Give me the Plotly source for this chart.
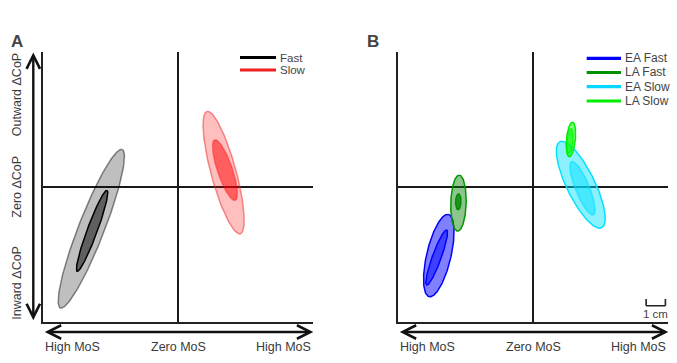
import numpy as np
import plotly.graph_objects as go

W, H = 677, 363
HALF_RANGE = 7  # cm, each side of zero

# ---------------- data (cm) ----------------
# Panel A
a_names = ["Fast", "Slow"]
a_outer_cx = [-4.51, 2.35]
a_outer_cy = [-2.18, 0.73]
a_outer_major = [4.41, 3.29]
a_outer_minor = [0.67, 0.65]
a_outer_angle = [68.7, 105.2]
a_inner_cx = [-4.47, 2.42]
a_inner_cy = [-2.29, 0.86]
a_inner_major = [2.24, 1.66]
a_inner_minor = [0.26, 0.39]
a_inner_angle = [69.7, 108.7]

# Panel B
b_names = ["EA Fast", "LA Fast", "EA Slow", "LA Slow"]
b_outer_cx = [-4.90, -3.88, 2.46, 1.95]
b_outer_cy = [-3.57, -0.85, 0.10, 2.45]
b_outer_major = [2.19, 1.45, 2.48, 0.90]
b_outer_minor = [0.63, 0.40, 0.73, 0.23]
b_outer_angle = [76.8, 88.4, 115.9, 84.4]
b_inner_cx = [-5.01, -3.89, 2.55, 1.90]
b_inner_cy = [-3.67, -0.78, -0.08, 2.37]
b_inner_major = [1.52, 0.41, 1.49, 0.65]
b_inner_minor = [0.23, 0.14, 0.36, 0.16]
b_inner_angle = [70.0, 88.0, 112.1, 84.0]

x_tick_labels = ["High MoS", "Zero MoS", "High MoS"]
y_tick_labels = ["Outward ΔCoP", "Zero ΔCoP", "Inward ΔCoP"]
scale_bar_cm = 1.0

# ---------------- styles ----------------
a_styles = [
    dict(ofill="rgba(0,0,0,0.25)", oline="rgba(0,0,0,0.45)", ifill="rgba(0,0,0,0.5)", iline="rgba(0,0,0,1)", leg="#000000"),
    dict(ofill="rgba(255,0,0,0.25)", oline="rgba(235,40,40,0.5)", ifill="rgba(255,0,0,0.5)", iline="rgba(255,0,0,0.35)", leg="#ee2020"),
]
b_styles = [
    dict(ofill="rgba(0,0,255,0.5)", oline="rgb(0,0,255)", ifill="rgba(0,0,255,0.5)", iline="rgb(0,0,255)", leg="#0000ff"),
    dict(ofill="rgba(0,128,0,0.45)", oline="rgb(0,150,0)", ifill="rgba(0,128,0,0.75)", iline="rgb(0,140,0)", leg="#009000"),
    dict(ofill="rgba(0,225,255,0.45)", oline="rgb(0,225,255)", ifill="rgba(0,225,255,0.5)", iline="rgba(0,225,255,0.6)", leg="#00d8ff"),
    dict(ofill="rgba(0,255,0,0.5)", oline="rgb(0,235,0)", ifill="rgba(0,255,0,0.6)", iline="rgba(0,235,0,0.6)", leg="#00ee00"),
]

FONT = "Liberation Sans, Arial, sans-serif"
TXT = "#3a3a3a"


def ellipse(cx, cy, a, b, ang, n=240):
    t = np.linspace(0, 2 * np.pi, n)
    th = np.deg2rad(ang)
    x = cx + a * np.cos(t) * np.cos(th) - b * np.sin(t) * np.sin(th)
    y = cy + a * np.cos(t) * np.sin(th) + b * np.sin(t) * np.cos(th)
    return x, y


fig = go.Figure()


def add_panel(xa, ya, ocx, ocy, oma, omi, oan, icx, icy, ima, imi, ian, styles):
    for i in range(len(ocx)):
        st = styles[i]
        x, y = ellipse(ocx[i], ocy[i], oma[i], omi[i], oan[i])
        fig.add_trace(go.Scatter(x=x, y=y, mode="lines", fill="toself", fillcolor=st["ofill"],
                                 line=dict(color=st["oline"], width=1.5), hoverinfo="skip",
                                 showlegend=False, xaxis=xa, yaxis=ya))
        x, y = ellipse(icx[i], icy[i], ima[i], imi[i], ian[i])
        fig.add_trace(go.Scatter(x=x, y=y, mode="lines", fill="toself", fillcolor=st["ifill"],
                                 line=dict(color=st["iline"], width=1.5), hoverinfo="skip",
                                 showlegend=False, xaxis=xa, yaxis=ya))


add_panel("x", "y", a_outer_cx, a_outer_cy, a_outer_major, a_outer_minor, a_outer_angle,
          a_inner_cx, a_inner_cy, a_inner_major, a_inner_minor, a_inner_angle, a_styles)
add_panel("x2", "y2", b_outer_cx, b_outer_cy, b_outer_major, b_outer_minor, b_outer_angle,
          b_inner_cx, b_inner_cy, b_inner_major, b_inner_minor, b_inner_angle, b_styles)

# plot-area pixel geometry
A_X0, A_X1 = 43.3, 313.3
B_X0, B_X1 = 398.3, 668.3
Y_TOP, Y_BOT = 51.7, 321.7

ax_common = dict(range=[-HALF_RANGE, HALF_RANGE], showgrid=False, showticklabels=False, ticks="",
                 zeroline=True, zerolinecolor="#1a1a1a", zerolinewidth=1.5,
                 showline=True, linecolor="#222222", linewidth=1.6, mirror=False, fixedrange=True)

fig.update_layout(
    width=W, height=H,
    margin=dict(l=0, r=0, t=0, b=0),
    paper_bgcolor="white", plot_bgcolor="white",
    showlegend=False,
    xaxis=dict(domain=[A_X0 / W, A_X1 / W], anchor="y", **ax_common),
    yaxis=dict(domain=[1 - Y_BOT / H, 1 - Y_TOP / H], anchor="x", **ax_common),
    xaxis2=dict(domain=[B_X0 / W, B_X1 / W], anchor="y2", **ax_common),
    yaxis2=dict(domain=[1 - Y_BOT / H, 1 - Y_TOP / H], anchor="x2", **ax_common),
)

ann = []
shapes = []

# panel letters
ann.append(dict(text="<b>A</b>", x=17 / W, y=1 - 41 / H, xref="paper", yref="paper",
                xanchor="center", yanchor="middle",
                showarrow=False, font=dict(family=FONT, size=17, color="#444444")))
ann.append(dict(text="<b>B</b>", x=372.5 / W, y=1 - 41 / H, xref="paper", yref="paper",
                xanchor="center", yanchor="middle",
                showarrow=False, font=dict(family=FONT, size=17, color="#444444")))

# double arrows
ARROW_Y = 332
ARROW_KW = dict(arrowside="end+start", arrowhead=5, startarrowhead=5, arrowsize=1.1, startarrowsize=1.1,
                arrowwidth=2.4, arrowcolor="#111111", standoff=0, startstandoff=0)
for x0, x1 in [(A_X0, A_X1), (B_X0, B_X1)]:
    ann.append(dict(text="", x=x1 / W, y=1 - ARROW_Y / H, xref="paper", yref="paper",
                    ax=-(x1 - x0), ay=0, axref="pixel", ayref="pixel", showarrow=True, **ARROW_KW))
ARROW_X = 33.3
ann.append(dict(text="", x=ARROW_X / W, y=1 - 52.5 / H, xref="paper", yref="paper",
                ax=0, ay=(Y_BOT - 52.5), axref="pixel", ayref="pixel", showarrow=True, **ARROW_KW))

# x labels
for xa in ["x", "x2"]:
    for val, lab, anc in zip([-HALF_RANGE, 0, HALF_RANGE], x_tick_labels, ["left", "center", "right"]):
        ann.append(dict(text=lab, x=val, y=1 - 347 / H, xref=xa, yref="paper", xanchor=anc,
                        yanchor="middle", showarrow=False, font=dict(family=FONT, size=12.5, color=TXT)))

# y labels (panel A only)
for val, lab, anc in zip([HALF_RANGE, 0, -HALF_RANGE], y_tick_labels, ["top", "middle", "bottom"]):
    ann.append(dict(text=lab, x=17 / W, y=val, xref="paper", yref="y", xanchor="center",
                    yanchor=anc, textangle=-90, showarrow=False,
                    font=dict(family=FONT, size=12.5, color=TXT)))

# legends (drawn manually)
def add_legend(names, styles, lx0, lx1, ys, fsize):
    for nm, st, yy in zip(names, styles, ys):
        shapes.append(dict(type="line", xref="paper", yref="paper", x0=lx0 / W, x1=lx1 / W,
                           y0=1 - yy / H, y1=1 - yy / H, line=dict(color=st["leg"], width=3.2)))
        ann.append(dict(text=nm, x=(lx1 + 3) / W, y=1 - yy / H, xref="paper", yref="paper",
                        xanchor="left", yanchor="middle", showarrow=False, borderpad=0,
                        font=dict(family=FONT, size=fsize, color="#444444")))


add_legend(a_names, a_styles, 240, 276, [57.5, 70.0], 11.5)
add_legend(b_names, b_styles, 586.7, 621, [58.3, 72.5, 86.7, 101], 12)

# scale bar (panel B)
sb_x1 = 6.85
sb_x0 = sb_x1 - scale_bar_cm
sb_y, sb_tick = -6.17, -5.82
for (xa0, ya0, xa1, ya1) in [(sb_x0, sb_y, sb_x1, sb_y), (sb_x0, sb_y, sb_x0, sb_tick), (sb_x1, sb_y, sb_x1, sb_tick)]:
    shapes.append(dict(type="line", xref="x2", yref="y2", x0=xa0, y0=ya0, x1=xa1, y1=ya1,
                       line=dict(color="#222222", width=1.6)))
ann.append(dict(text="1 cm", x=(sb_x0 + sb_x1) / 2, y=-6.58, xref="x2", yref="y2", showarrow=False,
                xanchor="center", yanchor="middle", font=dict(family=FONT, size=11.5, color="#444444")))

fig.update_layout(annotations=ann, shapes=shapes)
fig.write_html("out.html", config={"displayModeBar": False},
               post_script="document.body.style.margin='0';document.body.style.padding='0';document.body.style.overflow='hidden';")
